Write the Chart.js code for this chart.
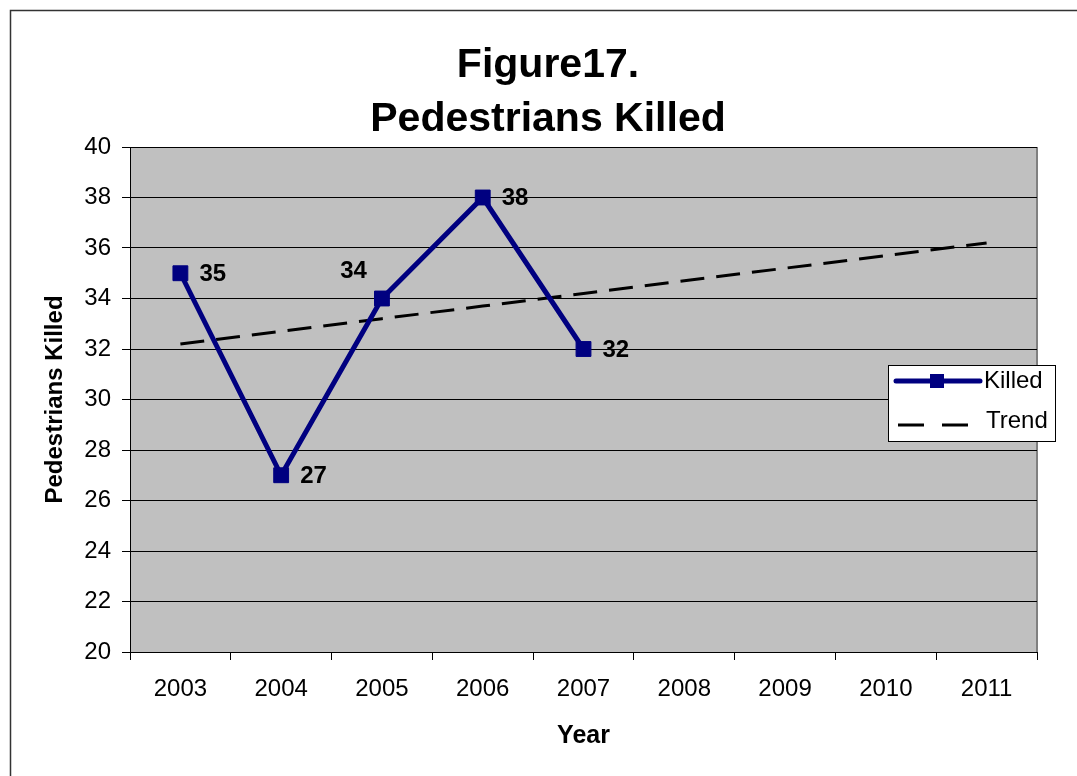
<!DOCTYPE html>
<html>
<head>
<meta charset="utf-8">
<script src="https://cdn.jsdelivr.net/npm/chart.js@4.4.1/dist/chart.umd.min.js"></script>
<style>
  html, body { margin: 0; padding: 0; background: #fff; }
  #wrap { width: 1077px; height: 776px; }
</style>
</head>
<body>
<div id="wrap"><canvas id="chart" width="1077" height="776"></canvas></div>
<script>
const years = ["2003", "2004", "2005", "2006", "2007", "2008", "2009", "2010", "2011"];
const killed = [35, 27, 34, 38, 32, null, null, null, null];
const trend = [32.2, 32.7, 33.2, 33.7, 34.2, 34.7, 35.2, 35.7, 36.2];
const titleLines = ["Figure17.", "Pedestrians Killed"];
const yMin = 20, yMax = 40, yStep = 2;

const FONT = "'Liberation Sans', Arial, sans-serif";
const NAVY = "#000080";

// white page, outer frame, grey plot area
const framePlugin = {
  id: "frame",
  beforeDraw(chart) {
    const { ctx, chartArea: a } = chart;
    ctx.save();
    ctx.fillStyle = "#fff";
    ctx.fillRect(0, 0, chart.width, chart.height);
    ctx.strokeStyle = "#333";
    ctx.lineWidth = 1.5;
    ctx.strokeRect(10.5, 10.5, chart.width + 20, chart.height + 20);
    ctx.fillStyle = "#c0c0c0";
    ctx.fillRect(a.left, a.top, a.right - a.left, a.bottom - a.top);
    ctx.strokeStyle = "#808080";
    ctx.lineWidth = 2;
    ctx.beginPath();
    ctx.moveTo(a.right, a.top);
    ctx.lineTo(a.right, a.bottom);
    ctx.stroke();
    ctx.restore();
  },
};

// two-line title, centred over the whole figure
const titlePlugin = {
  id: "bigTitle",
  afterDraw(chart) {
    const ctx = chart.ctx;
    ctx.save();
    ctx.fillStyle = "#000";
    ctx.font = "bold 41px " + FONT;
    ctx.textAlign = "center";
    ctx.textBaseline = "middle";
    titleLines.forEach((t, i) => ctx.fillText(t, 548, 66 + i * 54));
    ctx.restore();
  },
};

// value labels next to the Killed points
const valueLabels = {
  id: "valueLabels",
  afterDatasetsDraw(chart) {
    const ctx = chart.ctx;
    const meta = chart.getDatasetMeta(0);
    ctx.save();
    ctx.fillStyle = "#000";
    ctx.font = "bold 24px " + FONT;
    ctx.textBaseline = "middle";
    meta.data.forEach((pt, i) => {
      const v = killed[i];
      if (v == null) return;
      if (i === 2) {
        ctx.textAlign = "right";
        ctx.fillText(String(v), pt.x - 15, pt.y - 27);
      } else {
        ctx.textAlign = "left";
        ctx.fillText(String(v), pt.x + 19, pt.y + 1);
      }
    });
    ctx.restore();
  },
};

// boxed legend sitting over the right of the plot
const boxLegend = {
  id: "boxLegend",
  afterDraw(chart) {
    const ctx = chart.ctx;
    const x = 888, y = 365, w = 167, h = 76;
    ctx.save();
    ctx.fillStyle = "#fff";
    ctx.fillRect(x, y, w, h);
    ctx.strokeStyle = "#000";
    ctx.lineWidth = 1;
    ctx.strokeRect(x + 0.5, y + 0.5, w, h);

    ctx.strokeStyle = NAVY;
    ctx.lineWidth = 5;
    ctx.lineCap = "round";
    ctx.beginPath();
    ctx.moveTo(896, 381);
    ctx.lineTo(980, 381);
    ctx.stroke();
    ctx.fillStyle = NAVY;
    ctx.fillRect(930, 374, 14, 14);

    ctx.strokeStyle = "#000";
    ctx.lineWidth = 3;
    ctx.lineCap = "butt";
    ctx.setLineDash([26, 18]);
    ctx.beginPath();
    ctx.moveTo(898, 425);
    ctx.lineTo(970, 425);
    ctx.stroke();
    ctx.setLineDash([]);

    ctx.fillStyle = "#000";
    ctx.font = "24px " + FONT;
    ctx.textAlign = "left";
    ctx.textBaseline = "middle";
    ctx.fillText("Killed", 984, 381);
    ctx.fillText("Trend", 986, 421);
    ctx.restore();
  },
};

new Chart(document.getElementById("chart"), {
  type: "line",
  data: {
    labels: years,
    datasets: [
      {
        label: "Killed",
        data: killed,
        borderColor: NAVY,
        backgroundColor: NAVY,
        borderWidth: 5,
        pointStyle: "rect",
        pointRadius: 10.5,
        pointBorderWidth: 1,
        pointBackgroundColor: NAVY,
        pointBorderColor: NAVY,
        tension: 0,
        spanGaps: false,
      },
      {
        label: "Trend",
        data: trend,
        borderColor: "#000",
        borderWidth: 3,
        borderDash: [24, 12],
        pointRadius: 0,
        tension: 0,
      },
    ],
  },
  options: {
    responsive: false,
    animation: false,
    layout: { padding: { left: 0, right: 40, top: 147, bottom: 0 } },
    scales: {
      x: {
        type: "category",
        offset: true,
        grid: {
          offset: true,
          drawOnChartArea: false,
          color: "#000",
          tickLength: 8,
        },
        border: { display: true, color: "#000", width: 1 },
        ticks: {
          color: "#000",
          font: { family: FONT, size: 24 },
          padding: 15,
          maxRotation: 0,
        },
        title: {
          display: true,
          text: "Year",
          color: "#000",
          font: { family: FONT, size: 25, weight: "bold" },
          padding: { top: 0, bottom: 25 },
        },
        afterFit(scale) { scale.height = 124; },
      },
      y: {
        min: yMin,
        max: yMax,
        grid: { color: "#000", lineWidth: 1, tickLength: 8 },
        border: { display: true, color: "#000", width: 1 },
        ticks: {
          stepSize: yStep,
          color: "#000",
          font: { family: FONT, size: 24 },
          padding: 11,
        },
        title: {
          display: true,
          text: "Pedestrians Killed",
          color: "#000",
          font: { family: FONT, size: 24, weight: "bold" },
          padding: { top: 41, bottom: 0 },
        },
        afterFit(scale) { scale.width = 130; },
      },
    },
    plugins: {
      legend: { display: false },
      tooltip: { enabled: false },
      title: { display: false },
    },
  },
  plugins: [framePlugin, titlePlugin, valueLabels, boxLegend],
});
</script>
</body>
</html>
